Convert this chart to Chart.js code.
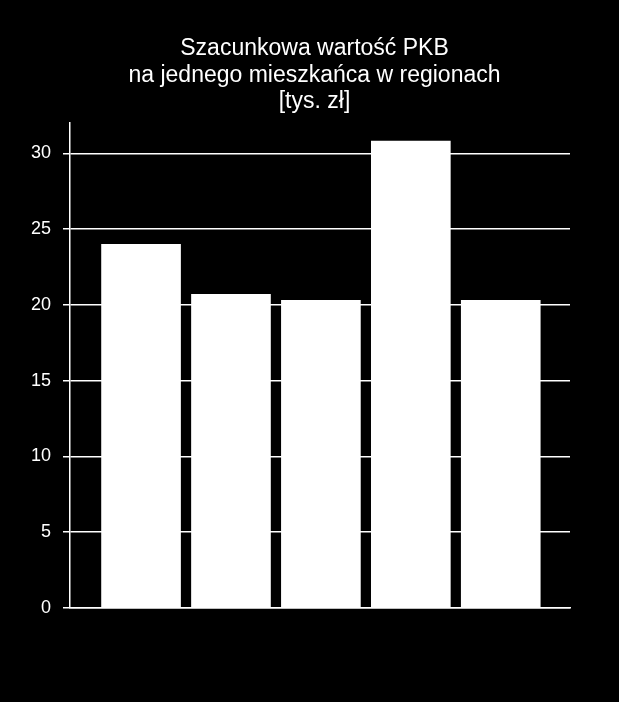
<!DOCTYPE html>
<html>
<head>
<meta charset="utf-8">
<script src="https://cdn.jsdelivr.net/npm/chart.js@4"></script>
<style>
  html, body { margin: 0; padding: 0; background: #000; }
  #wrap { width: 619px; height: 702px; }
</style>
</head>
<body>
<div id="wrap"><canvas id="gdpChart" width="619" height="702"></canvas></div>
<script>
// regions (no labels shown on the original chart)
const categories = ['Region 1', 'Region 2', 'Region 3', 'Region 4', 'Region 5'];
const values = [24.0, 20.7, 20.3, 30.8, 20.3];
const yTicks = [0, 5, 10, 15, 20, 25, 30];

const titleLines = ['Szacunkowa wartość PKB', 'na jednego mieszkańca w regionach', '[tys. zł]'];

// Title drawn by hand so it can sit centred on the whole picture,
// independent of the asymmetric layout padding
const centredTitle = {
    id: 'centredTitle',
    afterDraw(chart) {
        const c = chart.ctx;
        c.save();
        c.fillStyle = '#ffffff';
        c.font = '23px "Liberation Sans", Arial, sans-serif';
        c.textAlign = 'center';
        c.textBaseline = 'alphabetic';
        titleLines.forEach((line, i) => {
            c.fillText(line, chart.width / 2 + 5, 55 + i * 26.5);
        });
        c.restore();
    }
};

const ctx = document.getElementById('gdpChart');

new Chart(ctx, {
    type: 'bar',
    data: {
        datasets: [{
            label: 'PKB',
            data: categories.map((c, i) => ({ x: i, y: values[i] })),
            backgroundColor: '#ffffff',
            borderWidth: 0,
            barThickness: 79
        }]
    },
    options: {
        responsive: false,
        animation: false,
        layout: {
            padding: { left: 25, right: 49, top: 123, bottom: 86 }
        },
        plugins: {
            legend: { display: false },
            tooltip: { enabled: false },
            title: { display: false }
        },
        scales: {
            x: {
                type: 'linear',
                offset: false,
                min: -0.79,
                max: 4.77,
                grid: { display: false },
                border: { color: '#ffffff', width: 1.5 },
                ticks: { display: false }
            },
            y: {
                min: 0,
                max: 32,
                afterBuildTicks: scale => {
                    scale.ticks = yTicks.map(v => ({ value: v }));
                },
                afterFit: scale => { scale.width = 45; },
                grid: {
                    color: '#ffffff',
                    lineWidth: 1.5,
                    tickLength: 7,
                    drawTicks: true
                },
                border: { color: '#ffffff', width: 1.5 },
                ticks: {
                    color: '#ffffff',
                    padding: 12,
                    font: { family: 'Liberation Sans', size: 18 }
                }
            }
        }
    },
    plugins: [centredTitle]
});
</script>
</body>
</html>
